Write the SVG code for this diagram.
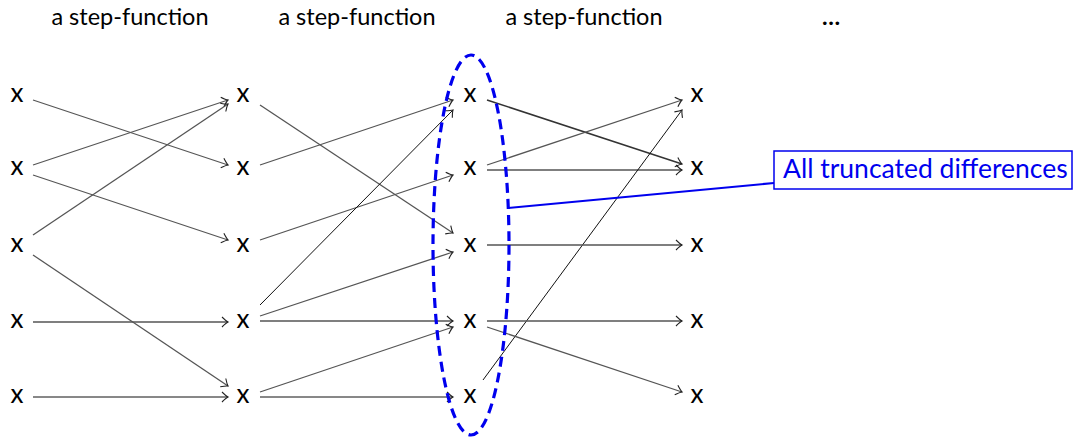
<svg xmlns="http://www.w3.org/2000/svg" width="1076" height="437" viewBox="0 0 1076 437">
<style>
.lbl{font-family:Lato,"Open Sans",sans-serif;font-size:23.5px;fill:#000;text-anchor:middle}
.dots{font-family:Lato,"Open Sans",sans-serif;font-size:23.5px;font-weight:bold;fill:#000;text-anchor:middle}
.nd{font-family:Lato,"Open Sans",sans-serif;font-size:26px;fill:#000;text-anchor:middle}
.e{stroke:#555;stroke-width:1.3;fill:none;marker-end:url(#ah)}
.k{stroke:#111;stroke-width:1;fill:none;marker-end:url(#ah)}
.d{stroke:#333;stroke-width:1.5;fill:none;marker-end:url(#ah)}
.call{font-family:Lato,"Open Sans",sans-serif;font-size:26.5px;fill:#0000ee}
</style>
<defs>
<marker id="ah" markerUnits="userSpaceOnUse" viewBox="-8 -6 10 12" markerWidth="10" markerHeight="12" refX="0" refY="0" orient="auto">
<path d="M-6,-5 Q-2,-1 0,0 Q-2,1 -6,5" fill="none" stroke="#222" stroke-width="1.1"/>
</marker>
</defs>
<rect width="1076" height="437" fill="#fff"/>
<g id="headers">
<text class="lbl" x="130" y="25">a step-function</text>
<text class="lbl" x="357" y="25">a step-function</text>
<text class="lbl" x="584" y="25">a step-function</text>
<text class="dots" x="831" y="25">…</text>
</g>
<g id="connectors">
<line class="e" x1="33" y1="100" x2="228" y2="165"/>
<line class="e" x1="33" y1="165" x2="228" y2="100"/>
<line class="e" x1="33" y1="175" x2="228" y2="240"/>
<line class="e" x1="33" y1="235" x2="228" y2="104"/>
<line class="e" x1="33" y1="255" x2="228" y2="386"/>
<line class="e" x1="33" y1="322" x2="228" y2="322"/>
<line class="k" x1="33" y1="397" x2="228" y2="397"/>
<line class="e" x1="260" y1="105" x2="453" y2="233"/>
<line class="e" x1="260" y1="165" x2="453" y2="100"/>
<line class="e" x1="260" y1="240" x2="453" y2="175"/>
<line class="k" x1="260" y1="305" x2="453" y2="110"/>
<line class="e" x1="260" y1="316" x2="453" y2="252"/>
<line class="e" x1="260" y1="321" x2="453" y2="321"/>
<line class="e" x1="260" y1="392" x2="453" y2="327"/>
<line class="k" x1="260" y1="397" x2="453" y2="397"/>
<line class="d" x1="487" y1="100" x2="682" y2="164"/>
<line class="e" x1="487" y1="165" x2="682" y2="100"/>
<line class="e" x1="487" y1="170" x2="682" y2="170"/>
<line class="k" x1="483" y1="380" x2="682" y2="110"/>
<line class="e" x1="487" y1="245" x2="682" y2="245"/>
<line class="e" x1="487" y1="321" x2="682" y2="321"/>
<line class="e" x1="487" y1="327" x2="682" y2="392"/>
</g>
<g id="nodes">
<g id="n00"><text class="nd" x="17" y="102">x</text></g>
<g id="n01"><text class="nd" x="17" y="175">x</text></g>
<g id="n02"><text class="nd" x="17" y="252">x</text></g>
<g id="n03"><text class="nd" x="17" y="328">x</text></g>
<g id="n04"><text class="nd" x="17" y="403">x</text></g>
<g id="n10"><text class="nd" x="243" y="102">x</text></g>
<g id="n11"><text class="nd" x="243" y="175">x</text></g>
<g id="n12"><text class="nd" x="243" y="252">x</text></g>
<g id="n13"><text class="nd" x="243" y="328">x</text></g>
<g id="n14"><text class="nd" x="243" y="403">x</text></g>
<g id="n20"><text class="nd" x="470" y="102">x</text></g>
<g id="n21"><text class="nd" x="470" y="175">x</text></g>
<g id="n22"><text class="nd" x="470" y="252">x</text></g>
<g id="n23"><text class="nd" x="470" y="328">x</text></g>
<g id="n24"><text class="nd" x="470" y="403">x</text></g>
<g id="n30"><text class="nd" x="697" y="102">x</text></g>
<g id="n31"><text class="nd" x="697" y="175">x</text></g>
<g id="n32"><text class="nd" x="697" y="252">x</text></g>
<g id="n33"><text class="nd" x="697" y="328">x</text></g>
<g id="n34"><text class="nd" x="697" y="403">x</text></g>
</g>
<g id="highlight">
<ellipse cx="471" cy="245" rx="38" ry="190" fill="none" stroke="#0000ee" stroke-width="3.2" stroke-dasharray="10,6"/>
</g>
<g id="callout">
<line x1="508" y1="208" x2="774" y2="183" stroke="#0000ee" stroke-width="2"/>
<rect x="774" y="151" width="298" height="38" fill="#fff" stroke="#0000ee" stroke-width="1.5"/>
<text class="call" x="783" y="178">All truncated differences</text>
</g>
</svg>
